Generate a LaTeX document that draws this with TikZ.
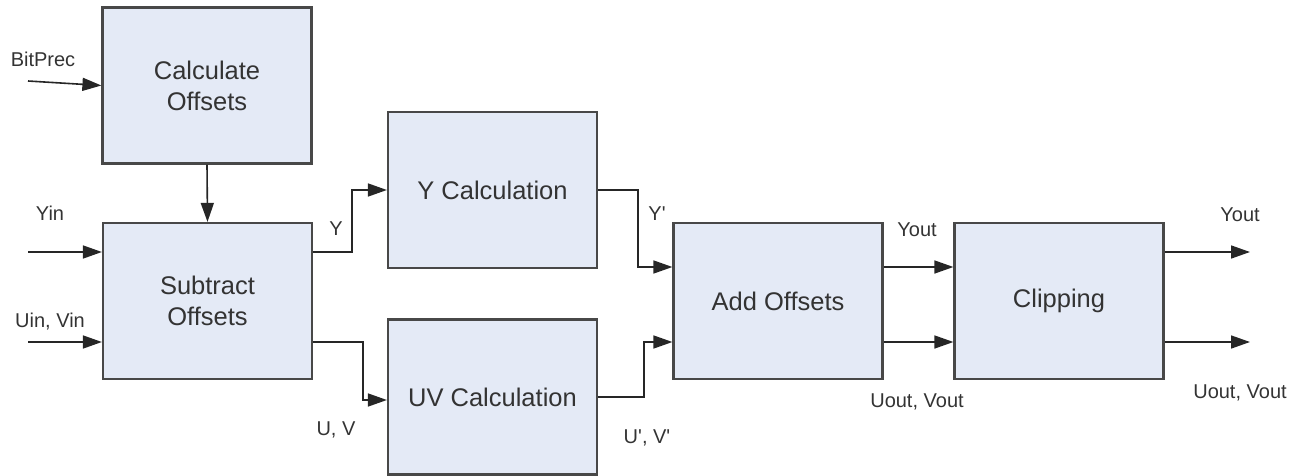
\documentclass[tikz,border=0pt]{standalone}
\usepackage{fontspec}
\setmainfont{Liberation Sans}
\usetikzlibrary{arrows.meta}
\definecolor{boxfill}{HTML}{E4EAF6}
\definecolor{boxline}{HTML}{484848}
\definecolor{txt}{HTML}{333333}
\begin{document}
\begin{tikzpicture}[x=1pt,y=-1pt,
  blk/.style={draw=boxline, line width=2.2pt, fill=boxfill, minimum width=209pt, minimum height=156pt, inner sep=0pt, align=center, text=txt, font=\fontsize{25.5}{31}\selectfont},
  lbl/.style={anchor=base, text=txt, font=\fontsize{20}{24}\selectfont, inner sep=0pt},
  arr/.style={draw=black!85, line width=1.6pt, -{Triangle[length=19pt,width=13pt]}},
  ]
\useasboundingbox (0,0) rectangle (1300,476);

\node[blk] (calc) at (207,85.5) {Calculate\\Offsets};
\node[blk] (sub) at (207.5,301) {Subtract\\Offsets};
\node[blk] (ycalc) at (492.5,190) {Y Calculation};
\node[blk, minimum height=155pt] (uvcalc) at (492.5,397) {UV Calculation};
\node[blk] (add) at (778,301) {Add Offsets};
\node[blk] (clip) at (1059,301) {Clipping};

\coordinate (bp) at (28,81);
\coordinate (yin) at (28,252);
\coordinate (uin) at (28,342);
\coordinate (yo) at (1250,252);
\coordinate (uo) at (1250,342);

\draw[arr] (bp) -- (calc.west);
\draw[arr] (calc.south) -- (sub.north);
\draw[arr] (yin) -- (yin -| sub.west);
\draw[arr] (uin) -- (uin -| sub.west);
\draw[arr] ([yshift=49pt]sub.east) -- ++(39,0) |- (ycalc.west);
\draw[arr] ([yshift=-41pt]sub.east) -- ++(50,0) |- ([yshift=-3pt]uvcalc.west);
\draw[arr] (ycalc.east) -- ++(40,0) |- ([yshift=34pt]add.west);
\draw[arr] (uvcalc.east) -- ++(46,0) |- ([yshift=-41pt]add.west);
\draw[arr] ([yshift=34pt]add.east) -- ([yshift=34pt]clip.west);
\draw[arr] ([yshift=-41pt]add.east) -- ([yshift=-41pt]clip.west);
\draw[arr] (yo -| clip.east) -- (yo);
\draw[arr] (uo -| clip.east) -- (uo);

\node[lbl] (lbp) at (43,67) {BitPrec};
\node[lbl] (lyin) at (50,220) {Yin};
\node[lbl] (luin) at (50,327) {Uin, Vin};
\node[lbl] (ly) at (336,235) {Y};
\node[lbl] (luv) at (336,435) {U, V};
\node[lbl] (lyp) at (657,220) {Y\textquotesingle};
\node[lbl] (luvp) at (647,443) {U\textquotesingle, V\textquotesingle};
\node[lbl] (lyout1) at (917,236) {Yout};
\node[lbl] (luvout1) at (917,407) {Uout, Vout};
\node[lbl] (lyout2) at (1240,221) {Yout};
\node[lbl] (luvout2) at (1240,398) {Uout, Vout};
\end{tikzpicture}
\end{document}
